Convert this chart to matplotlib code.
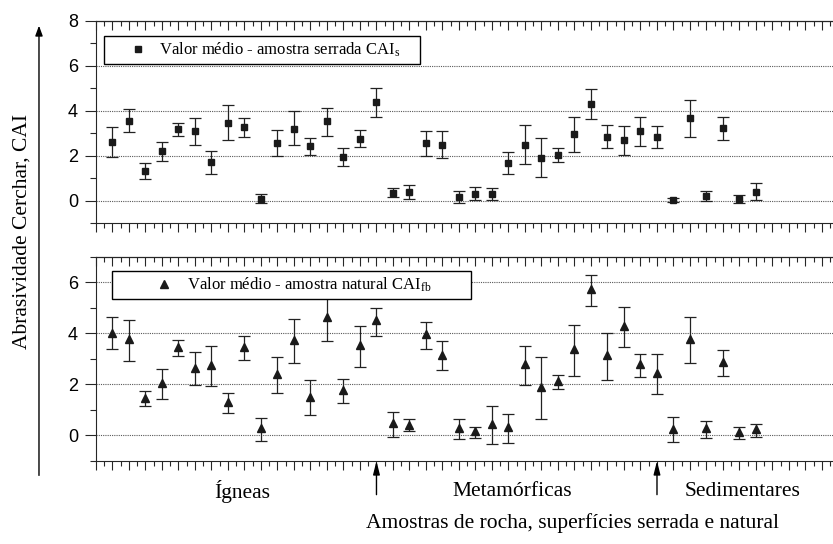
import matplotlib
matplotlib.use("Agg")
import matplotlib.pyplot as plt
from matplotlib.lines import Line2D
from matplotlib.ticker import MultipleLocator
import numpy as np

# amostras 1..40 (serrada: CAI_s, natural: CAI_fb)
amostras = list(range(1, 41))

cai_s = [2.63, 3.57, 1.33, 2.22, 3.20, 3.12, 1.72, 3.48, 3.28, 0.10,
         2.59, 3.22, 2.43, 3.54, 1.97, 2.77, 4.38, 0.37, 0.41, 2.56,
         2.51, 0.19, 0.33, 0.33, 1.69, 2.51, 1.92, 2.04, 2.97, 4.32,
         2.86, 2.72, 3.11, 2.86, 0.04, 3.68, 0.24, 3.24, 0.10, 0.41]
cai_s_sup = [3.30, 4.07, 1.67, 2.60, 3.45, 3.71, 2.22, 4.25, 3.71, 0.33,
             3.15, 3.98, 2.80, 4.14, 2.34, 3.14, 5.01, 0.56, 0.70, 3.09,
             3.11, 0.46, 0.61, 0.59, 2.16, 3.39, 2.81, 2.37, 3.74, 4.96,
             3.39, 3.34, 3.74, 3.33, 0.12, 4.51, 0.46, 3.74, 0.25, 0.81]
cai_s_inf = [1.97, 3.05, 0.96, 1.78, 2.90, 2.50, 1.20, 2.72, 2.84, -0.10,
             2.00, 2.47, 2.04, 2.88, 1.55, 2.41, 3.74, 0.18, 0.09, 2.00,
             1.92, -0.07, 0.03, 0.04, 1.18, 1.63, 1.05, 1.72, 2.19, 3.65,
             2.34, 2.03, 2.44, 2.37, -0.04, 2.86, 0.00, 2.71, -0.07, 0.04]

cai_fb = [4.02, 3.77, 1.48, 2.06, 3.46, 2.65, 2.77, 1.31, 3.48, 0.29,
          2.43, 3.74, 1.51, 4.63, 1.77, 3.54, 4.51, 0.49, 0.42, 3.98,
          3.15, 0.30, 0.16, 0.46, 0.33, 2.80, 1.90, 2.14, 3.39, 5.73,
          3.15, 4.30, 2.81, 2.44, 0.25, 3.79, 0.29, 2.87, 0.14, 0.26]
cai_fb_sup = [4.63, 4.53, 1.75, 2.62, 3.74, 3.28, 3.50, 1.67, 3.91, 0.68,
              3.08, 4.57, 2.19, 5.56, 2.22, 4.30, 5.00, 0.93, 0.64, 4.46,
              3.69, 0.63, 0.35, 1.15, 0.85, 3.50, 3.08, 2.38, 4.33, 6.31,
              4.03, 5.03, 3.20, 3.18, 0.72, 4.65, 0.58, 3.36, 0.34, 0.47]
cai_fb_inf = [3.40, 2.91, 1.15, 1.44, 3.11, 1.99, 1.96, 0.88, 2.95, -0.20,
              1.68, 2.83, 0.79, 3.70, 1.26, 2.69, 3.91, -0.04, 0.16, 3.41,
              2.56, -0.13, -0.10, -0.33, -0.29, 1.99, 0.66, 1.84, 2.34, 5.07,
              2.19, 3.48, 2.31, 1.64, -0.25, 2.83, -0.08, 2.32, -0.13, -0.04]

grupos = ["Ígneas", "Metamórficas", "Sedimentares"]
pos_grupos = [8.85, 25.2, 39.2]
limites = [17, 34]

plt.rcParams["font.family"] = ["Liberation Serif", "DejaVu Serif"]
plt.rcParams["mathtext.fontset"] = "custom"
plt.rcParams["mathtext.rm"] = "Liberation Serif"
plt.rcParams["mathtext.it"] = "Liberation Serif"

fig = plt.figure(figsize=(8.33, 5.44), dpi=100)
ax1 = fig.add_axes([0.1152, 0.5892, 0.8914, 0.3722])
ax2 = fig.add_axes([0.1152, 0.1526, 0.8914, 0.375])


def erro(media, sup, inf):
    m = np.array(media)
    return [m - np.array(inf), np.array(sup) - m]


def estilo(ax, ymin, ymax, yticks):
    ax.set_xlim(0, 45)
    ax.set_ylim(ymin, ymax)
    ax.set_yticks(yticks)
    ax.yaxis.set_minor_locator(MultipleLocator(1))
    ax.xaxis.set_major_locator(MultipleLocator(1))
    ax.xaxis.set_minor_locator(MultipleLocator(0.5))
    ax.tick_params(axis="x", which="both", direction="out", bottom=True,
                   top=False, labelbottom=False, color="0.15")
    ax.tick_params(axis="x", which="major", length=6.5, width=0.8)
    ax.tick_params(axis="x", which="minor", length=3.5, width=0.8)
    ax.tick_params(axis="y", which="major", direction="out", length=8, width=0.8,
                   labelsize=13, pad=5, color="0.15")
    ax.tick_params(axis="y", which="minor", direction="out", length=4, width=0.8,
                   color="0.15")
    for lab in ax.get_yticklabels():
        lab.set_fontfamily("Liberation Sans")
    sec = ax.secondary_xaxis("top")
    sec.xaxis.set_major_locator(MultipleLocator(1))
    sec.xaxis.set_minor_locator(MultipleLocator(0.5))
    sec.tick_params(axis="x", which="both", direction="in", labeltop=False,
                    color="0.15")
    sec.tick_params(axis="x", which="major", length=6.5, width=0.8)
    sec.tick_params(axis="x", which="minor", length=3.5, width=0.8)
    sec.spines["top"].set_linewidth(0.8)
    ax.spines["right"].set_visible(False)
    for s in ["left", "bottom", "top"]:
        ax.spines[s].set_linewidth(0.8)
        ax.spines[s].set_color("0.15")
    ax.grid(axis="y", which="major", linestyle=(0, (1, 1)), color="0.35",
            linewidth=0.8)
    ax.set_axisbelow(True)


estilo(ax1, -1, 8, [0, 2, 4, 6, 8])
estilo(ax2, -1, 7, [0, 2, 4, 6])

ax1.errorbar(amostras, cai_s, yerr=erro(cai_s, cai_s_sup, cai_s_inf),
             fmt="s", color="#1a1a1a", markersize=5, ecolor="#222222",
             elinewidth=0.9, capsize=4, capthick=0.9, zorder=3)
ax2.errorbar(amostras, cai_fb, yerr=erro(cai_fb, cai_fb_sup, cai_fb_inf),
             fmt="^", color="#1a1a1a", markersize=6, ecolor="#222222",
             elinewidth=0.9, capsize=4, capthick=0.9, zorder=3)

h1 = Line2D([], [], marker="s", linestyle="none", color="#1a1a1a", markersize=5)
h2 = Line2D([], [], marker="^", linestyle="none", color="#1a1a1a", markersize=6)

leg1 = ax1.legend([h1], ["Valor médio - amostra serrada CAI$_\\mathrm{s}$"],
                  loc="lower left", bbox_to_anchor=(0.0108, 0.7877, 0.4256, 0.1432),
                  mode="expand", borderaxespad=0, fontsize=12, frameon=True,
                  fancybox=False, framealpha=1, edgecolor="black",
                  borderpad=0.3, handlelength=3.5, handletextpad=-0.5)
leg1.get_frame().set_linewidth(1.0)

leg2 = ax2.legend([h2], ["Valor médio - amostra natural CAI$_\\mathrm{fb}$"],
                  loc="lower left", bbox_to_anchor=(0.0215, 0.794, 0.4835, 0.142),
                  mode="expand", borderaxespad=0, fontsize=12, frameon=True,
                  fancybox=False, framealpha=1, edgecolor="black",
                  borderpad=0.3, handlelength=5.6, handletextpad=-1.4)
leg2.get_frame().set_linewidth(1.0)

# divisoes entre grupos de rochas
for xl in limites:
    ax2.annotate("", xy=(xl, 0.0), xytext=(xl, -0.165),
                 xycoords=("data", "axes fraction"),
                 textcoords=("data", "axes fraction"),
                 arrowprops=dict(arrowstyle="-|>,head_length=0.8,head_width=0.2",
                                 color="black", lw=1.0, shrinkA=0, shrinkB=0))

for nome, xg in zip(grupos, pos_grupos):
    ax2.text(xg, -0.15, nome, transform=ax2.get_xaxis_transform(),
             ha="center", va="center", fontsize=15.5)

fig.text(0.687, 0.0386, "Amostras de rocha, superfícies serrada e natural",
         ha="center", va="center", fontsize=15.5)

fig.text(0.026, 0.574, "Abrasividade Cerchar, CAI", rotation=90,
         ha="center", va="center", fontsize=15.5)
fig.add_artist(matplotlib.patches.FancyArrowPatch(
    (0.0468, 0.121), (0.0468, 0.958), transform=fig.transFigure,
    arrowstyle="-|>,head_length=6,head_width=2.2", color="black", lw=1.0))

fig.savefig("out.png", dpi=100)
